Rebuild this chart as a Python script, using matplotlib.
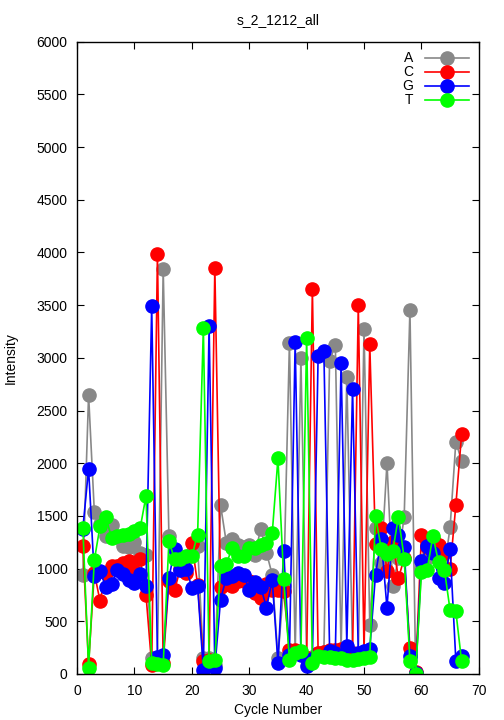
import numpy as np
import matplotlib
matplotlib.use("Agg")
import matplotlib.pyplot as plt

plt.rcParams['font.family'] = ['Liberation Sans', 'DejaVu Sans']

cycles = np.arange(1, 68)

# intensity per base, cycles 1..67
A = [943, 2648, 1540, 1420, 1307, 1418, 1300, 1212, 1206, 1250,
     1149, 1133, 152, 140, 3845, 1307, 1150, 1050, 1100, 1150,
     1212, 152, 150, 80, 1602, 1247, 1276, 1220, 1200, 1220,
     1133, 1380, 1150, 943, 155, 830, 3144, 200, 2995, 150,
     160, 200, 210, 2970, 3122, 220, 2818, 190, 180, 3271,
     462, 1387, 1050, 2004, 832, 1100, 1494, 3455, 10, 1000,
     1100, 1150, 1150, 1000, 1393, 2204, 2020]
C = [1212, 98, 960, 690, 960, 1022, 1022, 1054, 1070, 975,
     1086, 753, 80, 3987, 100, 880, 801, 1000, 962, 1244,
     848, 120, 130, 3857, 825, 850, 832, 880, 880, 880,
     770, 722, 850, 801, 801, 785, 231, 230, 200, 150,
     3657, 200, 210, 230, 231, 240, 220, 200, 3499, 210,
     3128, 1230, 1387, 980, 1250, 907, 1100, 247, 20, 1323,
     1200, 1280, 1228, 1152, 1000, 1602, 2273]
G = [1380, 1948, 925, 975, 825, 856, 983, 950, 896, 864,
     950, 832, 3490, 160, 183, 912, 1181, 991, 1000, 820,
     830, 41, 3302, 57, 706, 915, 930, 959, 940, 801,
     870, 825, 630, 889, 104, 1165, 180, 3154, 180, 79,
     140, 3017, 3065, 220, 200, 2948, 269, 2707, 200, 220,
     237, 943, 1276, 627, 1387, 1315, 1205, 167, 10, 1070,
     1212, 1150, 915, 864, 1187, 126, 167]
T = [1387, 57, 1079, 1405, 1493, 1292, 1307, 1315, 1330, 1355,
     1387, 1687, 104, 95, 88, 1260, 1086, 1086, 1117, 1120,
     1323, 3280, 120, 136, 1022, 1040, 1197, 1117, 1117, 1197,
     1197, 1228, 1244, 1333, 2045, 905, 136, 202, 215, 3192,
     104, 170, 160, 160, 150, 150, 130, 130, 140, 150,
     160, 1497, 1190, 1140, 1165, 1491, 1095, 120, 3, 965,
     991, 1307, 1060, 991, 604, 595, 120]

series = [("A", A, "#888888"), ("C", C, "#ff0000"),
          ("G", G, "#0000ff"), ("T", T, "#00ff00")]

fig = plt.figure(figsize=(5.04, 7.2), dpi=100)
ax = fig.add_axes([0.153, 0.064, 0.797, 0.878])

for name, vals, col in series:
    ax.plot(cycles, vals, color=col, lw=1.2, marker='o', ms=9.5,
            markeredgecolor=col, markerfacecolor=col, label=name)

ax.set_xlim(0, 70)
ax.set_ylim(0, 6000)
ax.set_xticks(np.arange(0, 71, 10))
ax.set_yticks(np.arange(0, 6001, 500))
ax.tick_params(direction='in', top=True, right=True, labelsize=10, length=5)
ax.tick_params(axis='y', pad=7)
ax.tick_params(axis='x', pad=7)
for s in ax.spines.values():
    s.set_linewidth(1.0)

ax.set_xlabel("Cycle Number", fontsize=10, labelpad=4)
ax.set_ylabel("Intensity", fontsize=10)
ax.yaxis.set_label_coords(-0.147, 0.5)
ax.set_title("s_2_1212_all", fontsize=10, pad=13)

leg = ax.legend(loc='upper right', frameon=False, markerfirst=False,
                fontsize=10, handlelength=3.2, labelspacing=0.0,
                borderaxespad=0.3, handletextpad=0.8)
for t in leg.get_texts():
    t.set_ha('right')

fig.savefig("out.png", dpi=100)
